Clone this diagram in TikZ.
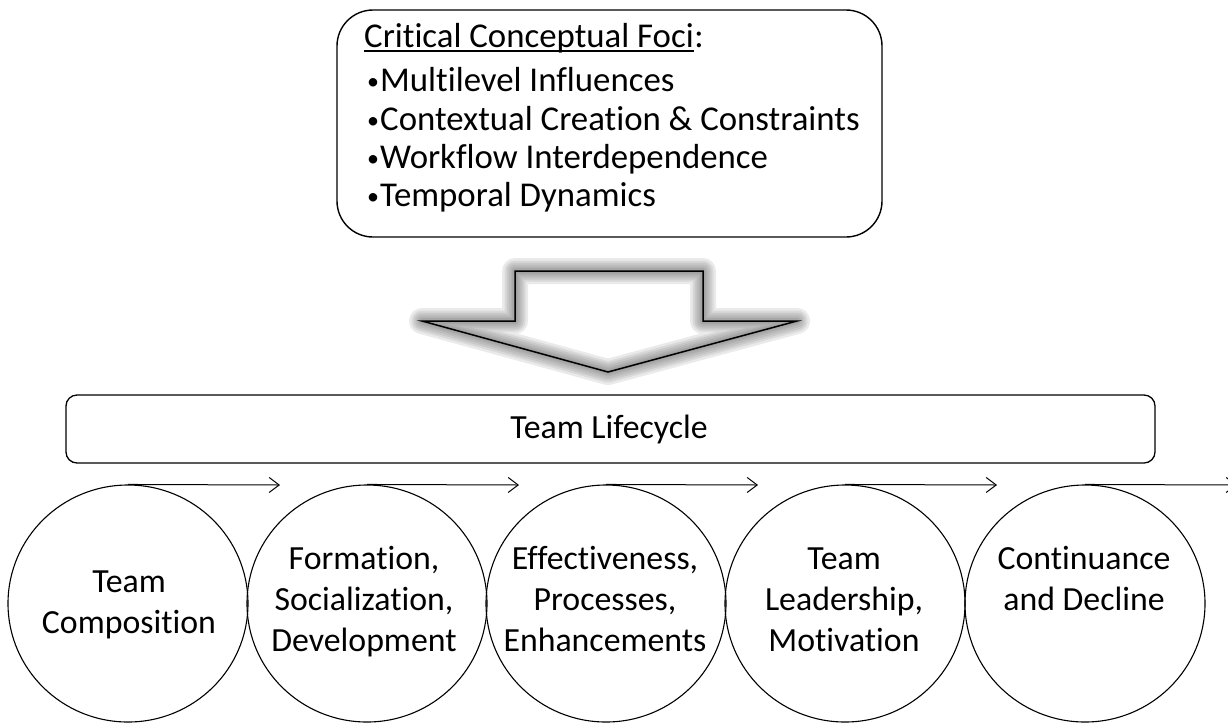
\documentclass[tikz,border=0pt]{standalone}
\usepackage{fontspec}
\setmainfont{Carlito}[Ligatures={NoCommon}]
\usetikzlibrary{arrows.meta,shapes.geometric}
\tikzset{
  txt/.style={anchor=base, inner sep=0pt, font=\fontsize{33.8}{41}\selectfont},
  ltxt/.style={anchor=base west, inner sep=0pt, font=\fontsize{34.8}{41}\selectfont},
  bul/.style={anchor=base, inner sep=0pt, font=\fontsize{24}{24}\selectfont},
  stage/.style={draw, ellipse, line width=1.1pt, minimum width=240pt, minimum height=237pt, inner sep=0pt},
  flow/.style={line width=1pt, -{Straight Barb[length=10pt,width=15pt,line width=1pt]}},
  glow/.style={draw=black!55, line join=round, opacity=0.15},
}
\begin{document}
\begin{tikzpicture}[x=1pt,y=-1pt]
\useasboundingbox (0,0) rectangle (1228,724);
% top box
\node[draw, line width=1.4pt, rounded corners=36pt, minimum width=545pt, minimum height=227pt, inner sep=0pt] (foci) at (609.5,123.5) {};
\node[ltxt] (t0) at (364,47) {Critical Conceptual Foci};
\node[ltxt] (t0c) at (t0.base east) {:};
\draw[line width=1.8pt] ([yshift=-4pt]t0.base west) -- ([yshift=-4pt]t0.base east);
\node[bul] (b1) at (373,89) {•};
\node[bul] (b2) at (373,128) {•};
\node[bul] (b3) at (373,166) {•};
\node[bul] (b4) at (373,204) {•};
\node[ltxt] (t1) at (380,91) {Multilevel Influences};
\node[ltxt] (t2) at (380,130) {Contextual Creation \& Constraints};
\node[ltxt] (t3) at (380,168) {Workflow Interdependence};
\node[ltxt] (t4) at (380,206) {Temporal Dynamics};
% big arrow
\path[fill=white] (515,271) -- (703,271) -- (703,321) -- (797,321) -- (608,372) -- (422,321) -- (515,321) -- cycle;
\foreach \w in {26,21,17,13,9,6,3}{
  \draw[glow, line width=\w pt] (515,271) -- (703,271) -- (703,321) -- (797,321) -- (608,372) -- (422,321) -- (515,321) -- cycle;
}
\draw[line width=1.5pt, line join=miter] (515,271) -- (703,271) -- (703,321) -- (797,321) -- (608,372) -- (422,321) -- (515,321) -- cycle;
% lifecycle box
\node[draw, line width=1.3pt, rounded corners=11pt, minimum width=1089pt, minimum height=68pt, inner sep=0pt] (life) at (610.5,429) {};
\node[txt] (lifet) at (609,438) {Team Lifecycle};
% stages
\node[stage] (c1) at (128,603.5) {};
\node[stage] (c2) at (367,603.5) {};
\node[stage] (c3) at (606,603.5) {};
\node[stage] (c4) at (845,603.5) {};
\node[stage] (c5) at (1085,603.5) {};
\coordinate (e1) at (280,485);
\coordinate (e2) at (519,485);
\coordinate (e3) at (758,485);
\coordinate (e4) at (997,485);
\coordinate (e5) at (1237,485);
\draw[flow] (c1.north) -- (e1);
\draw[flow] (c2.north) -- (e2);
\draw[flow] (c3.north) -- (e3);
\draw[flow] (c4.north) -- (e4);
\draw[flow] (c5.north) -- (e5);
\node[txt] (c1a) at (129,592) {Team};
\node[txt] (c1b) at (129,633) {Composition};
\node[txt] (c2a) at (364,569) {Formation,};
\node[txt] (c2b) at (364,610) {Socialization,};
\node[txt] (c2c) at (364,651) {Development};
\node[txt] (c3a) at (605,569) {Effectiveness,};
\node[txt] (c3b) at (605,610) {Processes,};
\node[txt] (c3c) at (605,651) {Enhancements};
\node[txt] (c4a) at (844,569) {Team};
\node[txt] (c4b) at (844,610) {Leadership,};
\node[txt] (c4c) at (844,651) {Motivation};
\node[txt] (c5a) at (1084,569) {Continuance};
\node[txt] (c5b) at (1084,610) {and Decline};
\end{tikzpicture}
\end{document}
